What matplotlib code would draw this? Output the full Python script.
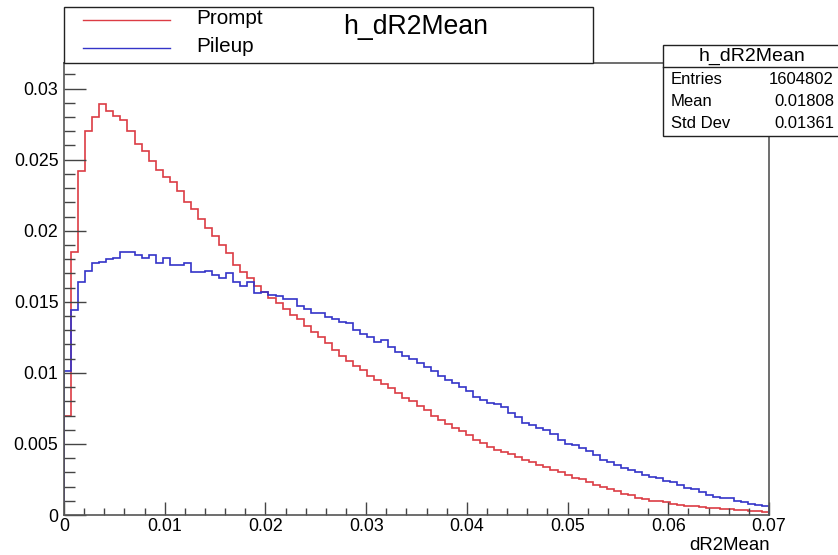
import numpy as np
import matplotlib
matplotlib.use("Agg")
import matplotlib.pyplot as plt
from matplotlib.patches import Rectangle
from matplotlib.lines import Line2D
from matplotlib.ticker import MultipleLocator

plt.rcParams['font.family'] = ['Liberation Sans', 'DejaVu Sans']

# 100 bins from 0 to 0.07
x_min, x_max, n_bins = 0.0, 0.07, 100

prompt = [0.0070, 0.0185, 0.0242, 0.0270, 0.0280, 0.0289, 0.0284, 0.0281, 0.0278, 0.0270,
          0.0261, 0.0256, 0.0249, 0.0243, 0.0238, 0.0234, 0.0228, 0.0220, 0.0215, 0.0208,
          0.0202, 0.0196, 0.0190, 0.0184, 0.0176, 0.0171, 0.0167, 0.0161, 0.0157, 0.0153,
          0.0149, 0.0145, 0.0141, 0.0138, 0.0133, 0.0129, 0.0125, 0.0121, 0.0116, 0.0112,
          0.0108, 0.0105, 0.0102, 0.0098, 0.0095, 0.0092, 0.0089, 0.0086, 0.0082, 0.0080,
          0.0077, 0.0074, 0.0070, 0.0067, 0.0064, 0.0061, 0.0059, 0.0056, 0.0053, 0.0051,
          0.0048, 0.0046, 0.0044, 0.0043, 0.0041, 0.0039, 0.0037, 0.0035, 0.0034, 0.0032,
          0.0030, 0.0028, 0.0026, 0.0025, 0.0023, 0.0021, 0.0020, 0.0018, 0.0017, 0.0015,
          0.0014, 0.0012, 0.0011, 0.0010, 0.00095, 0.00088, 0.00080, 0.00073, 0.00066, 0.00060,
          0.00055, 0.00050, 0.00047, 0.00044, 0.00041, 0.00038, 0.00035, 0.00030, 0.00026, 0.00021]

pileup = [0.0101, 0.0144, 0.0164, 0.0172, 0.0177, 0.0178, 0.0180, 0.0181, 0.0185, 0.0185,
          0.0183, 0.0181, 0.0183, 0.0177, 0.0181, 0.0176, 0.0176, 0.0177, 0.0171, 0.0171,
          0.0172, 0.0169, 0.0167, 0.0170, 0.0164, 0.0161, 0.0164, 0.0156, 0.0157, 0.0155,
          0.0154, 0.0152, 0.0152, 0.0147, 0.0145, 0.0142, 0.0142, 0.0139, 0.0138, 0.0136,
          0.0135, 0.0130, 0.0127, 0.0125, 0.0122, 0.0123, 0.0118, 0.0115, 0.0112, 0.0110,
          0.0107, 0.0104, 0.0101, 0.0098, 0.0095, 0.0093, 0.0090, 0.0087, 0.0083, 0.0081,
          0.0079, 0.0078, 0.0076, 0.0072, 0.0069, 0.0065, 0.0063, 0.0061, 0.0060, 0.0057,
          0.0053, 0.0050, 0.0049, 0.0047, 0.0045, 0.0042, 0.0039, 0.0037, 0.0035, 0.0033,
          0.0032, 0.0030, 0.0028, 0.0027, 0.0026, 0.0024, 0.0023, 0.0021, 0.0019, 0.0018,
          0.0016, 0.0014, 0.0013, 0.0012, 0.0012, 0.0010, 0.0009, 0.0008, 0.0007, 0.00065]

x_ticks = [0, 0.01, 0.02, 0.03, 0.04, 0.05, 0.06, 0.07]
x_ticklabels = ["0", "0.01", "0.02", "0.03", "0.04", "0.05", "0.06", "0.07"]
y_ticks = [0, 0.005, 0.01, 0.015, 0.02, 0.025, 0.03]
y_ticklabels = ["0", "0.005", "0.01", "0.015", "0.02", "0.025", "0.03"]

stats_title = "h_dR2Mean"
stats_names = ["Entries", "Mean", "Std Dev"]
stats_values = ["1604802", "0.01808", "0.01361"]
legend_labels = ["Prompt", "Pileup"]

W, H = 838, 555
fig = plt.figure(figsize=(W / 100, H / 100), dpi=100)

def fx(px):
    return px / W

def fy(py):
    return 1 - py / H

ax = fig.add_axes([fx(64), fy(515), fx(769) - fx(64), fy(63) - fy(515)])

edges = np.linspace(x_min, x_max, n_bins + 1)
red = '#dc3c44'
blue = '#3434c8'
ax.stairs(prompt, edges, color=red, lw=1.2)
ax.stairs(pileup, edges, color=blue, lw=1.2)

ax.set_xlim(x_min, x_max)
ax.set_ylim(0, 0.0318)

ax.set_xticks(x_ticks)
ax.set_xticklabels(x_ticklabels)
ax.set_yticks(y_ticks)
ax.set_yticklabels(y_ticklabels)
ax.xaxis.set_minor_locator(MultipleLocator(0.002))
ax.yaxis.set_minor_locator(MultipleLocator(0.001))
ax.tick_params(which='both', direction='in', top=False, right=False, labelsize=12.8, color='#444444')
ax.tick_params(axis='x', which='major', length=9.5, width=1, pad=2)
ax.tick_params(axis='x', which='minor', length=4.8, width=1)
ax.tick_params(axis='y', which='major', length=15.6, width=1, pad=4)
ax.tick_params(axis='y', which='minor', length=7.8, width=1)
for s in ax.spines.values():
    s.set_color('#555555')
    s.set_linewidth(1.2)

fig.text(fx(770), fy(546), "dR2Mean", ha='right', va='center', fontsize=13.4)

# legend box with title
fig.add_artist(Rectangle((fx(64), fy(63)), fx(593) - fx(64), fy(7) - fy(63),
                         transform=fig.transFigure, fill=True, fc='white', ec='#222222', lw=1.0))
for i, (lab, col) in enumerate(zip(legend_labels, [red, blue])):
    yy = 20 + i * 28
    fig.add_artist(Line2D([fx(83), fx(170)], [fy(yy), fy(yy)], color=col, lw=1.0,
                          transform=fig.transFigure))
    fig.text(fx(196), fy(yy - 1.5), lab, ha='left', va='center', fontsize=14.9)
fig.text(fx(415.5), fy(27.5), stats_title, ha='center', va='center', fontsize=19.2)

# stats box
fig.add_artist(Rectangle((fx(663), fy(136)), fx(845) - fx(663), fy(45) - fy(136),
                         transform=fig.transFigure, fill=True, fc='white', ec='#222222', lw=1.0,
                         clip_on=False))
fig.add_artist(Line2D([fx(663), fx(838)], [fy(67), fy(67)], color='#222222', lw=1.0,
                      transform=fig.transFigure))
fig.text(fx(752), fy(56), stats_title, ha='center', va='center', fontsize=14)
for i, (n, v) in enumerate(zip(stats_names, stats_values)):
    yy = 79 + i * 22
    fig.text(fx(671), fy(yy), n, ha='left', va='center', fontsize=12)
    fig.text(fx(834), fy(yy), v, ha='right', va='center', fontsize=12)

fig.savefig("out.png", dpi=100)
